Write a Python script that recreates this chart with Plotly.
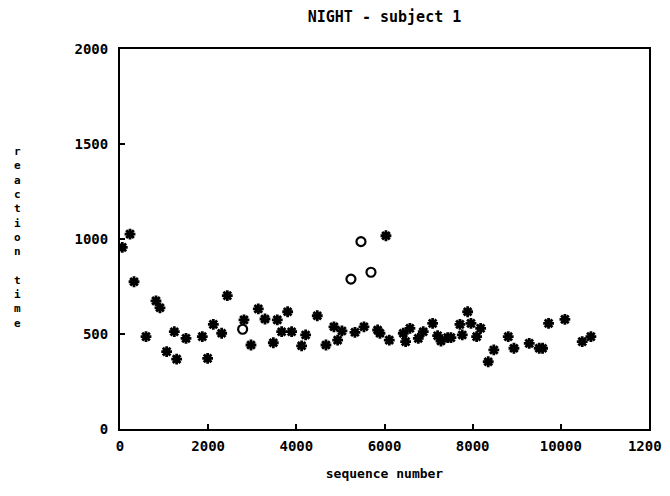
import plotly.graph_objects as go

# asterisk points (sequence number, reaction time)
star_x = [52, 227, 318, 590, 816, 907, 1058, 1232, 1285, 1497, 1867, 1988, 2117, 2306, 2434,
          2812, 2971, 3137, 3289, 3478, 3568, 3667, 3803, 3893, 4120, 4211, 4475, 4672, 4853,
          4937, 5035, 5330, 5534, 5844, 5897, 6033, 6108, 6426, 6479, 6577, 6766, 6879, 7092,
          7205, 7281, 7432, 7507, 7711, 7764, 7886, 7961, 8090, 8181, 8353, 8480, 8807, 8936,
          9283, 9510, 9586, 9722, 10092, 10485, 10682]
star_y = [956, 1026, 775, 486, 674, 638, 407, 512, 368, 477, 486, 372, 551, 504, 702,
          574, 442, 632, 579, 454, 574, 512, 617, 512, 438, 495, 596, 442, 538,
          468, 516, 509, 538, 521, 504, 1017, 468, 504, 460, 530, 477, 512, 556,
          491, 463, 481, 481, 551, 495, 617, 556, 486, 530, 354, 416, 486, 425,
          451, 425, 425, 556, 577, 460, 486]

# open-circle points
circ_x = [2782, 5239, 5466, 5693]
circ_y = [525, 789, 986, 825]

x_ticks = [0, 2000, 4000, 6000, 8000, 10000, 12000]
y_ticks = [0, 500, 1000, 1500, 2000]

FONT = "DejaVu Sans Mono"

fig = go.Figure()
fig.add_trace(go.Scatter(x=star_x, y=star_y, mode="markers",
                         marker=dict(symbol="asterisk-open", size=9, color="black",
                                     line=dict(color="black", width=2.8)),
                         showlegend=False))
fig.add_trace(go.Scatter(x=circ_x, y=circ_y, mode="markers",
                         marker=dict(symbol="circle-open", size=9, color="black",
                                     line=dict(color="black", width=2.2)),
                         showlegend=False))

fig.update_layout(
    width=662, height=476,
    margin=dict(l=112, r=21, t=41, b=55),
    paper_bgcolor="white", plot_bgcolor="white",
    font=dict(family=FONT, size=14, color="black", weight="bold"),
    title=dict(text="NIGHT - subject 1", x=0.5, xref="paper", xanchor="center",
               y=1 - 3 / 476, yref="container", yanchor="top",
               font=dict(family=FONT, size=15, color="black", weight="bold")),
    annotations=[dict(text="r<br>e<br>a<br>c<br>t<br>i<br>o<br>n<br> <br>t<br>i<br>m<br>e",
                      xref="paper", yref="paper", x=-0.193, y=0.505, xanchor="center",
                      yanchor="middle", showarrow=False, align="center",
                      font=dict(family=FONT, size=11, color="black", weight="bold"))],
)
fig.update_xaxes(range=[0, 12000], tickvals=x_ticks, ticktext=[str(v) for v in x_ticks],
                 showgrid=False, zeroline=False, showline=True, linecolor="black", linewidth=2,
                 mirror=True, ticks="inside", ticklen=5, tickwidth=1.5, tickcolor="black",
                 ticklabelstandoff=3, ticklabeloverflow="allow",
                 title=dict(text="sequence number", standoff=16,
                            font=dict(family=FONT, size=13, color="black", weight="bold")),
                 automargin=False)
fig.update_yaxes(range=[0, 2000], tickvals=y_ticks, ticktext=[str(v) for v in y_ticks],
                 showgrid=False, zeroline=False, showline=True, linecolor="black", linewidth=2,
                 mirror=True, ticks="inside", ticklen=5, tickwidth=1.5, tickcolor="black",
                 ticklabelstandoff=7, automargin=False)

fig.write_html("out.html")
